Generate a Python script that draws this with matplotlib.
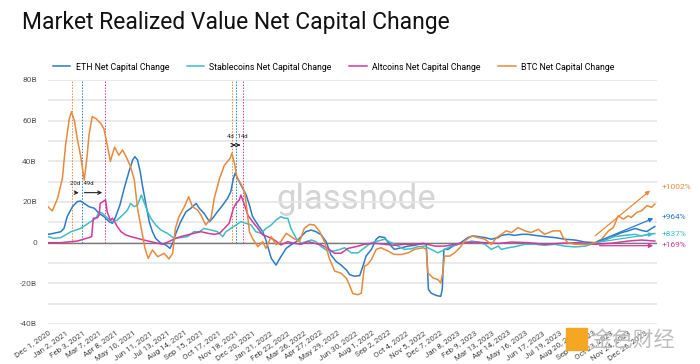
import numpy as np
import matplotlib
matplotlib.use("Agg")
import matplotlib.pyplot as plt
from matplotlib.patches import Rectangle

plt.rcParams['font.family'] = ['Roboto', 'DejaVu Sans']

start = np.datetime64("2020-12-01")

# values: days since Dec 1, 2020 / billions USD
eth_days = [0, 11, 24, 30, 36, 46, 55, 61, 68, 77, 87, 96, 105, 115, 121, 127, 135, 143, 152, 159,
            163, 168, 173, 177, 184, 190, 196, 202, 212, 221, 229, 234, 240, 249, 259, 268, 278, 284, 293, 303,
            309, 318, 328, 337, 343, 348, 351, 356, 362, 372, 378, 384, 394, 403, 409, 419, 428, 437, 447, 456,
            466, 475, 484, 494, 503, 513, 522, 531, 541, 550, 560, 566, 575, 585, 591, 597, 607, 616, 622, 632,
            641, 650, 663, 676, 688, 704, 710, 714, 719, 729, 737, 740, 743, 751, 760, 770, 779, 788, 798, 807,
            820, 832, 845, 851, 864, 876, 889, 901, 914, 932, 951, 970, 989, 1008, 1026, 1039, 1052, 1064, 1077, 1089,
            1102, 1114, 1124, 1133, 1139]
eth_vals = [4.1, 4.6, 5.4, 7, 12.8, 17.7, 20.2, 20.5, 19.3, 17.7, 16.9, 14.4, 12.8, 10.3, 9.5, 12.8, 18.5, 26.7, 35, 40.7,
            42.3, 40.7, 35, 28.4, 18.5, 10.3, 5.4, 2.1, -0.3, -1.1, -2.8, -0.3, 4.6, 10.3, 15.2, 16.9, 19.3, 16.9, 14.4, 10.3,
            12, 15.2, 18.5, 21.8, 25, 31.6, 34.1, 31.6, 28.4, 23.4, 18.5, 12.8, 8.7, 5.4, 1.3, -7.7, -11, -6.9, -2.8, -1.1,
            0.5, 3, 5.4, 6.2, 5.4, 3.8, 0.5, -6, -9.3, -11, -13.4, -15.7, -16.5, -16.2, -11.6, -6.6, -3.3, 1.7, 3, 2.5,
            -0.8, -3.3, -2.5, -1.7, -1.3, -0.3, -0.8, -23, -24.8, -26, -26.4, -23, -3.3, -3.3, -1.7, -0.8, 0.8, 2.5, 3.3, 3,
            2.5, 1.7, 2.5, 3.6, 4.1, 3.6, 4.1, 4.1, 3.6, 3, 2.5, 1.7, 1.3, 0.3, 0, 0.8, 2, 3.6, 5, 5.8,
            7, 6, 5.5, 7, 8]

stb_days = [0, 11, 24, 33, 43, 52, 61, 71, 80, 90, 96, 102, 112, 121, 130, 140, 149, 155, 162, 168,
            175, 180, 187, 193, 202, 212, 224, 237, 249, 262, 274, 284, 293, 306, 318, 328, 334, 343, 353, 362,
            372, 381, 390, 400, 409, 419, 428, 437, 444, 450, 456, 466, 475, 484, 494, 503, 513, 522, 531, 544,
            557, 569, 582, 594, 607, 619, 632, 644, 657, 669, 682, 694, 707, 719, 732, 745, 757, 770, 782, 795,
            807, 820, 832, 845, 851, 864, 876, 895, 914, 932, 951, 970, 989, 1008, 1026, 1045, 1064, 1083, 1102, 1114,
            1127, 1139]
stb_vals = [3, 2.1, 2.5, 3.8, 5.4, 6.2, 7, 8.7, 10.3, 12, 15.2, 14.4, 12, 10.3, 11.1, 13.6, 16, 19.3, 17.7, 18.5,
            23.4, 20.2, 15.2, 12, 8.7, 6.2, 4.6, 2.1, 2.5, 3, 5.4, 5.4, 7, 6.2, 5.4, 3, 5.4, 7, 8.7, 10.3,
            9.5, 8.7, 5.4, 4.6, 7, 8.7, 11.1, 12.8, 12, 12, 7, 2.1, -0.3, 0.5, 1.3, 0.5, -2, -3.6, -4.4, -3.6,
            -2.5, -5, -5, -2.5, 0, 0.8, 1.7, 0, -1.7, -3.3, -3, -2, -1.7, -3.3, -5, -3.3, -1.7, -0.8, 0, 0.8,
            0.3, -0.8, -3.3, -1.7, -3.3, -2.5, -2, -0.8, -0.8, -1.3, -0.8, -1.7, -2.1, -1.7, -0.3, 1.7, 3, 3.6, 4.1, 3.3,
            4.1, 4.5]

alt_days = [0, 24, 43, 55, 68, 77, 82, 85, 93, 96, 98, 103, 108, 111, 117, 121, 125, 130, 137, 146,
            155, 168, 180, 193, 206, 215, 224, 237, 249, 262, 274, 287, 300, 312, 322, 331, 340, 348, 353, 359,
            362, 369, 375, 384, 394, 403, 412, 425, 437, 450, 462, 475, 488, 500, 513, 525, 538, 550, 563, 569,
            582, 594, 613, 632, 650, 669, 688, 707, 726, 745, 763, 782, 801, 820, 845, 870, 901, 932, 964, 995,
            1026, 1058, 1089, 1114, 1139]
alt_vals = [0, 0, 0.5, 0.8, 1.8, 2.5, 3, 12, 12.3, 13.6, 19.3, 20.2, 21, 15.2, 11.1, 12, 10.3, 7.9, 5.4, 3.8,
            3, 2.1, 1.3, 0.5, -0.3, -0.8, 0.2, 1.8, 3, 3.8, 4.6, 5.4, 4.6, 4.1, 4.6, 7, 9.5, 16.9, 19.3, 21,
            23.4, 18.5, 13.6, 10.3, 7, 3.8, 3, 1.3, -1.1, 0.5, -0.3, -0.8, 0.5, -0.3, -1.1, -2.8, -5.2, -5.2, -2.8, -2.5,
            -1.7, -0.8, -0.3, -0.8, -1.3, -0.8, -0.8, -0.5, -1.7, -1.7, -0.8, 0, 0.3, 0, -0.4, 0.3, 0, -0.8, -0.3, 0,
            -0.8, -0.3, 0.8, 1.3, 0.8]

btc_days = [0, 8, 18, 27, 33, 40, 44, 50, 55, 61, 68, 73, 77, 83, 90, 99, 105, 112, 117, 125,
            133, 140, 148, 155, 162, 168, 175, 182, 188, 196, 206, 218, 227, 234, 239, 246, 256, 264, 271, 281,
            287, 296, 306, 312, 322, 331, 337, 342, 345, 350, 355, 362, 369, 374, 378, 384, 394, 403, 409, 419,
            428, 437, 447, 456, 462, 472, 481, 491, 500, 510, 519, 528, 538, 550, 560, 566, 572, 582, 588, 594,
            600, 607, 616, 625, 638, 650, 663, 676, 688, 704, 710, 713, 723, 732, 737, 741, 744, 754, 763, 773,
            782, 795, 807, 820, 832, 842, 851, 860, 870, 882, 895, 907, 920, 932, 948, 961, 967, 976, 989, 1001,
            1014, 1026, 1039, 1052, 1061, 1070, 1080, 1089, 1095, 1105, 1114, 1124, 1133, 1139]
btc_vals = [17.7, 15.6, 21.8, 31.6, 48, 61, 64.4, 59.5, 51, 43, 30.8, 41.5, 53, 62, 61, 58.7, 56, 47, 40, 47,
            43, 45.6, 41.5, 37.4, 30.8, 16.9, 7, -2.8, -7.7, -3.6, -6.9, -5.2, -8, -5.2, 7, 12.8, 17.7, 22.6, 17.7, 16,
            13.6, 8.7, 12, 21.8, 31.6, 38, 40, 41.5, 44, 39, 31.6, 29, 25, 15, 5.4, 2, -2, 0.5, -2.8, 3,
            -1, 0.5, 4.6, 3, 2, 0.5, 7, 9, 8.7, 5.4, 0.5, -7.7, -14, -15, -17.5, -21, -25, -25.6, -24.8, -11.6,
            -10.7, -8.3, -3.3, -2.5, -4.1, -5.8, -5.8, -5, -3.3, -2.5, -3.3, -14.9, -17.4, -18.2, -19.8, -14.9, -6.6, -6.6, -5, -2.5,
            0.8, 3.3, 2.5, 1.7, -0.8, 2.5, 4.1, 5.8, 5, 7.4, 5.8, 5, 6.6, 4.1, 5.8, 5.8, 2.5, 0, -0.8, -0.8,
            -0.8, 0, 1.7, 5.8, 7.4, 13.2, 11.6, 13.2, 12.4, 14.9, 15.7, 18.2, 17.4, 19]

series = [
    ("ETH Net Capital Change", eth_days, eth_vals, "#2b7bc6"),
    ("Stablecoins Net Capital Change", stb_days, stb_vals, "#3dbdc6"),
    ("Altcoins Net Capital Change", alt_days, alt_vals, "#d2399f"),
    ("BTC Net Capital Change", btc_days, btc_vals, "#e8893b"),
]

# peak markers (days) and lag labels
peak_days_1 = [45, 63, 107]
peak_days_2 = [345, 352, 366]
lag_labels_1 = ["20d", "49d"]
lag_labels_2 = ["4d", "14d"]

# growth arrows at the right: (start day, start value, end day, end value, label, label value)
growth = [
    (1023, 2.5, 1134, 26.5, "+1002%", 27.4, "#e8893b"),
    (1026, 0.0, 1141, 12.5, "+964%", 12.7, "#2b7bc6"),
    (1026, 0.0, 1141, 4.5, "+837%", 4.3, "#3dbdc6"),
    (1030, -1.5, 1141, -1.5, "+169%", -1.2, "#d2399f"),
]

n_days_axis = 1143


def d(days):
    return start + np.array(days).astype("timedelta64[D]")


fig = plt.figure(figsize=(7, 3.64), dpi=100)
ax = fig.add_axes([48 / 700, 1 - 324 / 364, 609 / 700, 244 / 364])

for name, days, vals, col in series:
    ax.plot(d(days), vals, color=col, lw=1.1, label=name, zorder=3)

ax.set_ylim(-40, 80)
ax.set_xlim(start, start + np.timedelta64(n_days_axis, "D"))
ax.set_yticks([-40, -20, 0, 20, 40, 60, 80])
ax.set_yticklabels(["-40B", "-20B", "0", "20B", "40B", "60B", "80B"])
ax.set_yticks(np.arange(-30, 80, 20), minor=True)
ax.grid(axis="y", which="both", color="#e6e6e6", lw=1.2, zorder=0)
ax.axhline(0, color="#7a7a7a", lw=1.0, zorder=2)
for s in ax.spines.values():
    s.set_visible(False)

tick_days = np.arange(0, 1121, 32)
ticks = d(tick_days)
ax.set_xticks(ticks)
ax.set_xticklabels([str(t.astype(object).strftime("%b ")) + str(t.astype(object).day) + ", " + str(t.astype(object).year)
                    for t in ticks], rotation=35, ha="right", rotation_mode="anchor")
ax.tick_params(axis="x", length=0, labelsize=5.8, labelcolor="#444444", pad=4)
ax.tick_params(axis="y", which="both", length=0, labelsize=6, labelcolor="#555555", pad=8)

# peak markers
vcols = ["#e8893b", "#2b7bc6", "#d2399f"]
for days in (peak_days_1, peak_days_2):
    for dd, c in zip(days, vcols):
        ax.vlines(d([dd]), 0, 80, colors=c, linestyles=(0, (1.5, 1.5)), lw=0.7, zorder=2)

arrow_kw = dict(arrowstyle="->", color="#222222", lw=0.8, mutation_scale=6)
for days, labels, yv in ((peak_days_1, lag_labels_1, 24.6), (peak_days_2, lag_labels_2, 48)):
    for i in range(2):
        ax.annotate("", xy=(d([days[i + 1]])[0], yv), xytext=(d([days[i]])[0], yv), arrowprops=arrow_kw, zorder=4)
    ax.text(d([days[1]])[0], yv + 4.3, labels[0] + " ", fontsize=4.3, ha="right", va="center", color="#222222")
    ax.text(d([days[1]])[0], yv + 4.3, " " + labels[1], fontsize=4.3, ha="left", va="center", color="#222222")

# growth arrows
for x0, y0, x1, y1, lab, ly, c in growth:
    ax.annotate("", xy=(d([x1])[0], y1), xytext=(d([x0])[0], y0),
                arrowprops=dict(arrowstyle="-|>", color=c, lw=0.9, mutation_scale=6), zorder=4)
    ax.text(d([1152])[0], ly, lab, fontsize=6, color=c, ha="left", va="center", clip_on=False)

# watermark
ax.text(d([579])[0], 21, "glassnode", fontsize=25, color="#d4d4d4", ha="center", va="center", zorder=1)

fig.text(22 / 700, 1 - 22 / 364, "Market Realized Value Net Capital Change", fontsize=16.5,
         color="#111111", ha="left", va="center")

fig.legend(loc="center left", bbox_to_anchor=(45 / 700, 1 - 67 / 364), ncol=4, frameon=False,
           fontsize=6.3, handlelength=2.0, handletextpad=0.6, columnspacing=2.0)

# 金色财经 watermark
fig.patches.append(Rectangle((566 / 700, 1 - 350 / 364), 21 / 700, 22 / 364, color="#f5a623",
                             transform=fig.transFigure, figure=fig))
fig.text(591 / 700, 1 - 340 / 364, "金色财经", fontsize=15, color="#bdbdbd", ha="left", va="center",
         family=["Noto Sans CJK SC", "DejaVu Sans"])

fig.savefig("out.png", dpi=100, facecolor="white")
